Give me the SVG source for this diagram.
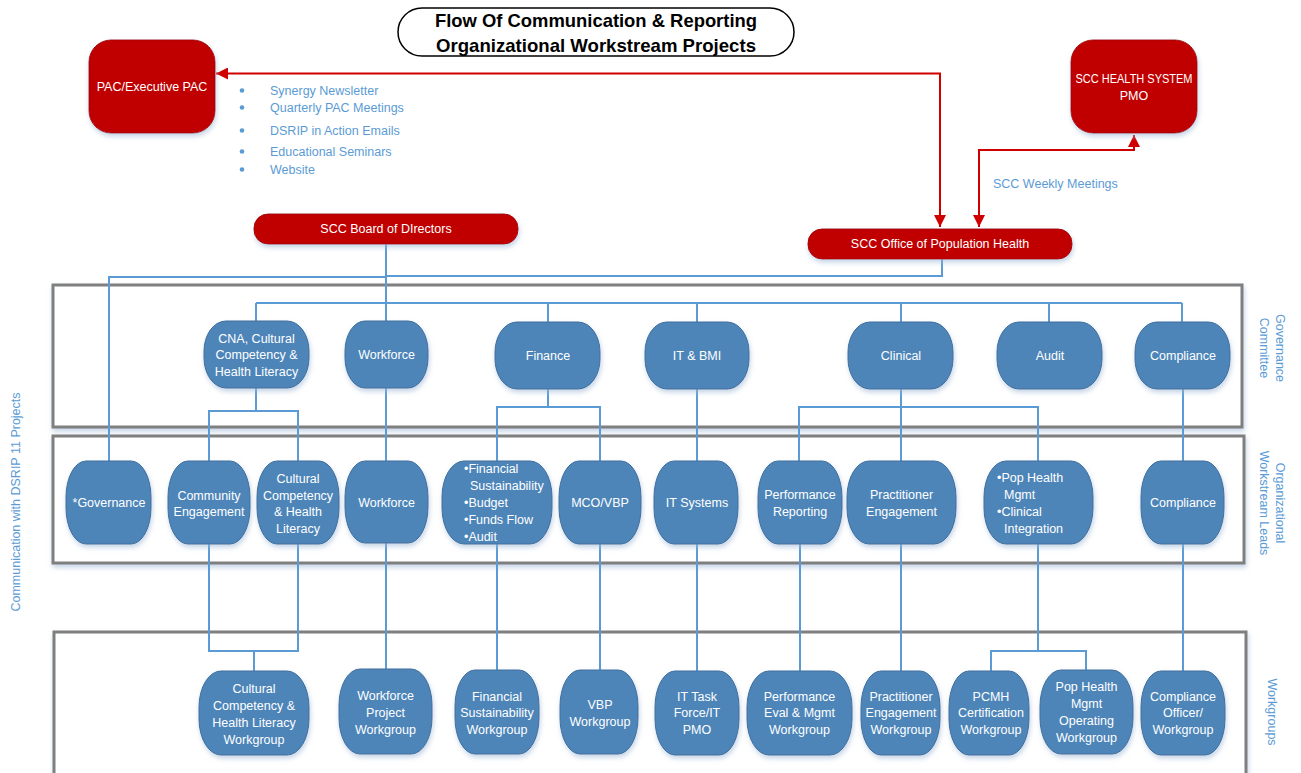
<svg xmlns="http://www.w3.org/2000/svg" width="1301" height="773" viewBox="0 0 1301 773">
<defs>
<style>
.t{font-family:"Liberation Sans",Arial,sans-serif;font-size:12.5px;fill:#ffffff;text-anchor:middle}
.tl{font-family:"Liberation Sans",Arial,sans-serif;font-size:12.5px;fill:#ffffff}
.b{font-family:"Liberation Sans",Arial,sans-serif;font-size:12.5px;fill:#5B9BD5}
.bc{font-family:"Liberation Sans",Arial,sans-serif;font-size:12.5px;fill:#5B9BD5;text-anchor:middle}
.dot{fill:#5B9BD5}
.title{font-family:"Liberation Sans",Arial,sans-serif;font-size:19px;font-weight:bold;fill:#000000;text-anchor:middle}
.red{fill:#C00000;stroke:#A50000;stroke-width:1;filter:url(#sh)}
.blue{fill:#4E85B9;stroke:#3E6E9C;stroke-width:1;filter:url(#sh)}
.lane{fill:#ffffff;stroke:#7F7F7F;stroke-width:3;filter:url(#sh)}
.bl{fill:none;stroke:#5B9BD5;stroke-width:2}
.rl{fill:none;stroke:#D00000;stroke-width:2;marker-start:url(#ah);marker-end:url(#ah)}
</style>
<filter id="sh" x="-20%" y="-20%" width="140%" height="150%">
<feDropShadow dx="1" dy="3" stdDeviation="2.5" flood-color="#9FB8D6" flood-opacity="0.6"/>
</filter>
<marker id="ah" viewBox="0 0 10 10" refX="10" refY="5" markerWidth="12" markerHeight="12" markerUnits="userSpaceOnUse" orient="auto-start-reverse">
<path d="M0,0 L10,5 L0,10 z" fill="#D00000"/>
</marker>
</defs>
<rect width="1301" height="773" fill="#ffffff"/>

<g id="lanes">
<rect class="lane" x="53" y="285" width="1189" height="142"/>
<rect class="lane" x="53" y="436" width="1191" height="127"/>
<rect class="lane" x="54" y="632" width="1192" height="170"/>
<text class="bc" transform="translate(1272,348) rotate(90)"><tspan x="0" y="-4">Governance</tspan><tspan x="0" y="12">Committee</tspan></text>
<text class="bc" transform="translate(1272,503) rotate(90)"><tspan x="0" y="-4">Organizational</tspan><tspan x="0" y="12">Workstream Leads</tspan></text>
<text class="bc" transform="translate(1272,712) rotate(90)" y="4">Workgroups</text>
<text class="bc" transform="translate(16,502) rotate(-90)" y="4">Communication with DSRIP 11 Projects</text>
</g>

<g id="title">
<rect x="398" y="8" width="396" height="48" rx="24" fill="#ffffff" stroke="#000000" stroke-width="1.5"/>
<text class="title" x="596" y="27" textLength="322" lengthAdjust="spacingAndGlyphs">Flow Of Communication &amp; Reporting</text>
<text class="title" x="596" y="52" textLength="320" lengthAdjust="spacingAndGlyphs">Organizational Workstream Projects</text>
</g>

<g id="connectors">
<path class="rl" d="M940,227 V73.5 H216"/>
<path class="rl" d="M979,227 V150 H1134 V135"/>
<path class="bl" d="M386,244 V321"/>
<path class="bl" d="M386,277 H109 V461"/>
<path class="bl" d="M942,259 V276 H386"/>
<path class="bl" d="M256,303 H1182"/>
<path class="bl" d="M256,303 V321 M548,303 V322 M697,303 V322 M901,303 V322 M1049,303 V322 M1182,303 V322"/>
<path class="bl" d="M256,388 V411 M209,461 V411 H298 V461"/>
<path class="bl" d="M386,388 V461 M386,543 V669"/>
<path class="bl" d="M548,389 V407 M497,461 V407 H600 V461"/>
<path class="bl" d="M697,389 V461 M697,544 V671"/>
<path class="bl" d="M901,389 V461 M799,461 V407 H1038 V461"/>
<path class="bl" d="M1183,389 V461 M1183,544 V671"/>
<path class="bl" d="M209,544 V651 H298 V544 M254,651 V671"/>
<path class="bl" d="M497,544 V671 M600,544 V671 M800,544 V671 M901,544 V671"/>
<path class="bl" d="M1038,544 V651 M991,671 V651 H1086 V670"/>
</g>

<g id="pac">
<rect class="red" x="89" y="40" width="126" height="93" rx="22"/>
<text class="t" x="152" y="91">PAC/Executive PAC</text>
</g>
<g id="pac-channels">
<circle class="dot" cx="242" cy="90.5" r="2.3"/><text class="b" x="270" y="95">Synergy Newsletter</text>
<circle class="dot" cx="242" cy="107.5" r="2.3"/><text class="b" x="270" y="112">Quarterly PAC Meetings</text>
<circle class="dot" cx="242" cy="130.5" r="2.3"/><text class="b" x="270" y="135">DSRIP in Action Emails</text>
<circle class="dot" cx="242" cy="151.5" r="2.3"/><text class="b" x="270" y="156">Educational Seminars</text>
<circle class="dot" cx="242" cy="169.5" r="2.3"/><text class="b" x="270" y="174">Website</text>
</g>
<g id="pmo">
<rect class="red" x="1071" y="40" width="126" height="93" rx="22"/>
<text class="t" x="1134" y="83" textLength="117" lengthAdjust="spacingAndGlyphs">SCC HEALTH SYSTEM</text>
<text class="t" x="1134" y="100">PMO</text>
</g>
<g id="weekly-label"><text class="b" x="993" y="188">SCC Weekly Meetings</text></g>
<g id="board">
<rect class="red" x="254" y="214" width="264" height="30" rx="14"/>
<text class="t" x="386" y="233">SCC Board of DIrectors</text>
</g>
<g id="office">
<rect class="red" x="808" y="229" width="264" height="30" rx="14"/>
<text class="t" x="940" y="248">SCC Office of Population Health</text>
</g>

<g id="gov-cna"><rect class="blue" x="204" y="321" width="105" height="67" rx="22" ry="30"/>
<text class="t" x="256.5" y="343">CNA, Cultural</text><text class="t" x="256.5" y="359">Competency &amp;</text><text class="t" x="256.5" y="375.5">Health Literacy</text></g>
<g id="gov-workforce"><rect class="blue" x="345" y="321" width="83" height="67" rx="20" ry="30"/>
<text class="t" x="386.5" y="359">Workforce</text></g>
<g id="gov-finance"><rect class="blue" x="495" y="322" width="105" height="67" rx="22" ry="30"/>
<text class="t" x="548" y="360">Finance</text></g>
<g id="gov-it"><rect class="blue" x="645" y="322" width="104" height="67" rx="22" ry="30"/>
<text class="t" x="697" y="360">IT &amp; BMI</text></g>
<g id="gov-clinical"><rect class="blue" x="848" y="322" width="105" height="67" rx="22" ry="30"/>
<text class="t" x="901" y="360">Clinical</text></g>
<g id="gov-audit"><rect class="blue" x="997" y="322" width="105" height="67" rx="22" ry="30"/>
<text class="t" x="1050" y="360">Audit</text></g>
<g id="gov-compliance"><rect class="blue" x="1135" y="322" width="95" height="67" rx="22" ry="30"/>
<text class="t" x="1183" y="360">Compliance</text></g>

<g id="lead-governance"><rect class="blue" x="66" y="461" width="85" height="83" rx="20" ry="36"/>
<text class="t" x="109" y="507">*Governance</text></g>
<g id="lead-community"><rect class="blue" x="168" y="461" width="82" height="83" rx="20" ry="36"/>
<text class="t" x="209" y="500">Community</text><text class="t" x="209" y="516">Engagement</text></g>
<g id="lead-cultural"><rect class="blue" x="257" y="461" width="82" height="83" rx="20" ry="36"/>
<text class="t" x="298" y="483">Cultural</text><text class="t" x="298" y="500">Competency</text><text class="t" x="298" y="516">&amp; Health</text><text class="t" x="298" y="533">Literacy</text></g>
<g id="lead-workforce"><rect class="blue" x="345" y="461" width="83" height="82" rx="20" ry="36"/>
<text class="t" x="386.5" y="507">Workforce</text></g>
<g id="lead-financial"><rect class="blue" x="442" y="461" width="110" height="83" rx="22" ry="36"/>
<text class="tl" x="464" y="473">•Financial</text><text class="tl" x="470" y="490">Sustainability</text><text class="tl" x="464" y="507">•Budget</text><text class="tl" x="464" y="524">•Funds Flow</text><text class="tl" x="464" y="541">•Audit</text></g>
<g id="lead-mco"><rect class="blue" x="559" y="461" width="82" height="83" rx="20" ry="36"/>
<text class="t" x="600" y="507">MCO/VBP</text></g>
<g id="lead-it"><rect class="blue" x="654" y="461" width="84" height="83" rx="20" ry="36"/>
<text class="t" x="697" y="507">IT Systems</text></g>
<g id="lead-performance"><rect class="blue" x="758" y="461" width="84" height="83" rx="20" ry="36"/>
<text class="t" x="800" y="499">Performance</text><text class="t" x="800" y="516">Reporting</text></g>
<g id="lead-practitioner"><rect class="blue" x="847" y="461" width="109" height="83" rx="22" ry="36"/>
<text class="t" x="901.5" y="499">Practitioner</text><text class="t" x="901.5" y="516">Engagement</text></g>
<g id="lead-pophealth"><rect class="blue" x="984" y="461" width="109" height="83" rx="22" ry="36"/>
<text class="tl" x="997" y="482">•Pop Health</text><text class="tl" x="1004" y="499">Mgmt</text><text class="tl" x="997" y="516">•Clinical</text><text class="tl" x="1004" y="533">Integration</text></g>
<g id="lead-compliance"><rect class="blue" x="1141" y="461" width="83" height="83" rx="20" ry="36"/>
<text class="t" x="1183" y="507">Compliance</text></g>

<g id="wg-cultural"><rect class="blue" x="199" y="671" width="110" height="84" rx="22" ry="36"/>
<text class="t" x="254" y="692.5">Cultural</text><text class="t" x="254" y="710">Competency &amp;</text><text class="t" x="254" y="727">Health Literacy</text><text class="t" x="254" y="744">Workgroup</text></g>
<g id="wg-workforce"><rect class="blue" x="339" y="669" width="93" height="85" rx="21" ry="36"/>
<text class="t" x="385.5" y="700">Workforce</text><text class="t" x="385.5" y="717">Project</text><text class="t" x="385.5" y="734">Workgroup</text></g>
<g id="wg-financial"><rect class="blue" x="455" y="670" width="84" height="84" rx="20" ry="36"/>
<text class="t" x="497" y="701">Financial</text><text class="t" x="497" y="717">Sustainability</text><text class="t" x="497" y="734">Workgroup</text></g>
<g id="wg-vbp"><rect class="blue" x="560" y="670" width="78" height="84" rx="20" ry="36"/>
<text class="t" x="600" y="708.5">VBP</text><text class="t" x="600" y="726">Workgroup</text></g>
<g id="wg-it"><rect class="blue" x="655" y="671" width="84" height="84" rx="20" ry="36"/>
<text class="t" x="697" y="701">IT Task</text><text class="t" x="697" y="717">Force/IT</text><text class="t" x="697" y="734">PMO</text></g>
<g id="wg-performance"><rect class="blue" x="747" y="671" width="105" height="84" rx="22" ry="36"/>
<text class="t" x="799.5" y="701">Performance</text><text class="t" x="799.5" y="717">Eval &amp; Mgmt</text><text class="t" x="799.5" y="734">Workgroup</text></g>
<g id="wg-practitioner"><rect class="blue" x="861" y="671" width="79" height="84" rx="20" ry="36"/>
<text class="t" x="901" y="701">Practitioner</text><text class="t" x="901" y="717">Engagement</text><text class="t" x="901" y="734">Workgroup</text></g>
<g id="wg-pcmh"><rect class="blue" x="949" y="671" width="80" height="84" rx="20" ry="36"/>
<text class="t" x="991" y="701">PCMH</text><text class="t" x="991" y="717">Certification</text><text class="t" x="991" y="734">Workgroup</text></g>
<g id="wg-pophealth"><rect class="blue" x="1040" y="670" width="93" height="84" rx="21" ry="36"/>
<text class="t" x="1086.5" y="691">Pop Health</text><text class="t" x="1086.5" y="708">Mgmt</text><text class="t" x="1086.5" y="725">Operating</text><text class="t" x="1086.5" y="742">Workgroup</text></g>
<g id="wg-compliance"><rect class="blue" x="1141" y="671" width="84" height="84" rx="20" ry="36"/>
<text class="t" x="1183" y="701">Compliance</text><text class="t" x="1183" y="717">Officer/</text><text class="t" x="1183" y="734">Workgroup</text></g>
</svg>
